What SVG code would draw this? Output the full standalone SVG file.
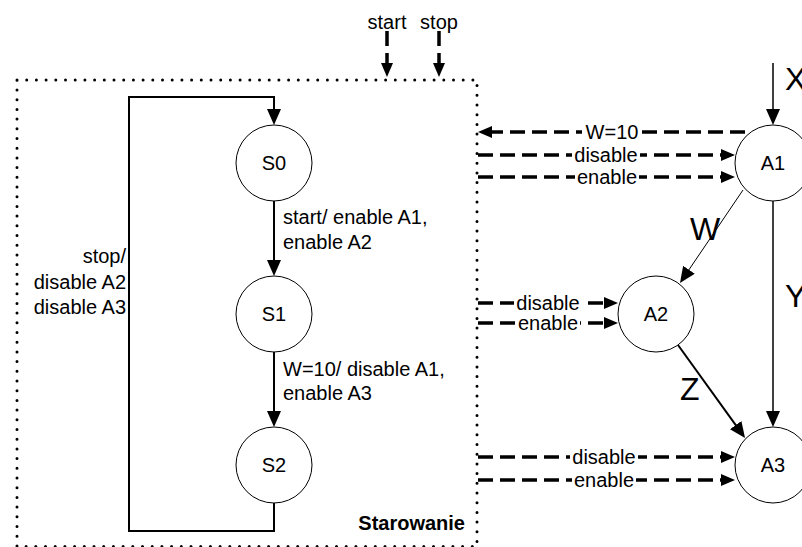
<svg xmlns="http://www.w3.org/2000/svg" width="802" height="547" viewBox="0 0 802 547">
<style>
text{font-family:"Liberation Sans",Arial,sans-serif;font-size:20px;fill:#000}
.big{font-size:32px}
.b{font-weight:bold}
.m{text-anchor:middle}
.e{text-anchor:end}
.node{fill:#fff;stroke:#000;stroke-width:1}
.ln{fill:none;stroke:#000;stroke-width:2}
.thin{fill:none;stroke:#000;stroke-width:1}
.dash{fill:none;stroke:#000;stroke-width:3.5;stroke-dasharray:15 7}
.bg{fill:#fff}
</style>
<defs>
<marker id="a" viewBox="0 0 16 14" refX="6" refY="7" markerWidth="16" markerHeight="14" markerUnits="userSpaceOnUse" orient="auto"><path d="M0,0 L16,7 L0,14 z" fill="#000"/></marker>
<marker id="d" viewBox="0 0 14 12" refX="5" refY="6" markerWidth="14" markerHeight="12" markerUnits="userSpaceOnUse" orient="auto"><path d="M0,0 L14,6 L0,12 z" fill="#000"/></marker>
</defs>
<g id="frame">
<rect x="17" y="80" width="460" height="466.5" fill="none" stroke="#000" stroke-width="3" stroke-linecap="round" stroke-dasharray="0 9.7"/>
<text class="b e" x="465" y="530">Starowanie</text>
</g>
<g id="connectors">
<path class="dash" d="M387,31 V68" marker-end="url(#d)"/>
<path class="dash" d="M439,31 V68" marker-end="url(#d)"/>
<path class="ln" d="M274,201 V266" marker-end="url(#a)"/>
<path class="ln" d="M274,352 V417" marker-end="url(#a)"/>
<path class="ln" d="M274,503 V531 H129 V97 H274 V115" marker-end="url(#a)"/>
<path class="ln" d="M773,63 V115" marker-end="url(#a)" style="stroke-width:1.5"/>
<path class="thin" d="M743,190 L685.6,274.7" marker-end="url(#a)"/>
<path class="ln" d="M773,201 V417" marker-end="url(#a)" style="stroke-width:1.5"/>
<path class="ln" d="M678,345 L739.2,429.9" marker-end="url(#a)"/>
<path class="dash" d="M745,132 H487" marker-end="url(#d)"/>
<path class="dash" d="M478,155 H726" marker-end="url(#d)"/>
<path class="dash" d="M478,177 H726" marker-end="url(#d)"/>
<path class="dash" d="M478,303 H609" marker-end="url(#d)"/>
<path class="dash" d="M478,323 H609" marker-end="url(#d)"/>
<path class="dash" d="M478,457 H726" marker-end="url(#d)"/>
<path class="dash" d="M478,480 H726" marker-end="url(#d)"/>
<rect class="bg" x="582" y="120" width="60" height="22"/>
<text class="m" x="612" y="139">W=10</text>
<rect class="bg" x="572" y="144" width="68" height="21"/>
<text class="m" x="606" y="162">disable</text>
<rect class="bg" x="575" y="167" width="64" height="20"/>
<text class="m" x="607" y="184">enable</text>
<rect class="bg" x="514" y="292" width="68" height="20"/>
<text class="m" x="548" y="310">disable</text>
<rect class="bg" x="516" y="313" width="64" height="20"/>
<text class="m" x="548" y="330">enable</text>
<rect class="bg" x="570" y="446" width="68" height="20"/>
<text class="m" x="604" y="464">disable</text>
<rect class="bg" x="572" y="469" width="64" height="20"/>
<text class="m" x="604" y="487">enable</text>
<text class="m" x="387" y="29">start</text>
<text class="m" x="439" y="29">stop</text>
<text x="283" y="224">start/ enable A1,</text>
<text x="283" y="249">enable A2</text>
<text x="283" y="376">W=10/ disable A1,</text>
<text x="283" y="400">enable A3</text>
<text class="e" x="126" y="263">stop/</text>
<text class="e" x="126" y="289">disable A2</text>
<text class="e" x="126" y="314">disable A3</text>
<text class="big" x="785" y="90">X</text>
<text class="big" x="690" y="240">W</text>
<text class="big" x="785" y="307">Y</text>
<text class="big" x="680" y="400">Z</text>
</g>
<g id="S0"><circle class="node" cx="274" cy="163" r="38"/><text class="m" x="274" y="170">S0</text></g>
<g id="S1"><circle class="node" cx="274" cy="314" r="38"/><text class="m" x="274" y="321">S1</text></g>
<g id="S2"><circle class="node" cx="274" cy="465" r="38"/><text class="m" x="274" y="472">S2</text></g>
<g id="A1"><circle class="node" cx="773" cy="163" r="38"/><text class="m" x="773" y="170">A1</text></g>
<g id="A2"><circle class="node" cx="656" cy="314" r="38"/><text class="m" x="656" y="321">A2</text></g>
<g id="A3"><circle class="node" cx="773" cy="465" r="38"/><text class="m" x="773" y="472">A3</text></g>
</svg>
